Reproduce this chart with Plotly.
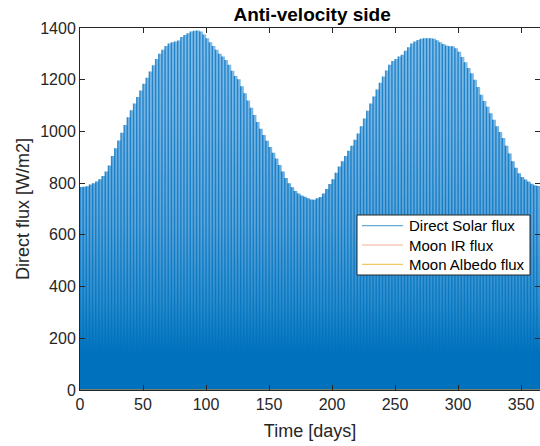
import numpy as np
import plotly.graph_objects as go

# Peak direct solar flux on the anti-velocity face, one value per 2.5-day step [W/m2]
STEP_DAYS = 2.5
direct_solar_peak = [
    785, 786, 788, 795, 800, 806, 815, 828, 845, 868,
    905, 935, 965, 995, 1025, 1055, 1082, 1108, 1133, 1158,
    1184, 1208, 1232, 1256, 1280, 1300, 1316, 1330, 1340, 1345,
    1348, 1352, 1365, 1373, 1380, 1386, 1389, 1390, 1386, 1375,
    1360, 1345, 1330, 1316, 1300, 1290, 1276, 1258, 1235, 1214,
    1202, 1175, 1148, 1120, 1092, 1064, 1036, 1010, 986, 964,
    940, 918, 895, 870, 845, 820, 800, 784, 770, 760,
    752, 747, 742, 737, 736, 742, 746, 760, 777, 797,
    815, 840, 864, 885, 905, 925, 945, 968, 992, 1020,
    1050, 1080, 1108, 1135, 1162, 1188, 1212, 1236, 1258, 1272,
    1280, 1290, 1297, 1312, 1326, 1340, 1348, 1354, 1358, 1360,
    1360, 1360, 1358, 1353, 1345, 1338, 1332, 1329, 1329, 1322,
    1308, 1288, 1268, 1245, 1225, 1200, 1172, 1142, 1118, 1095,
    1070, 1045, 1020, 998, 975, 945, 915, 885, 860, 838,
    824, 814, 806, 798, 792, 789,
]
days = (np.arange(len(direct_solar_peak)) * STEP_DAYS).tolist()

# Moon contributions stay close to zero over the year
moon_days = [0, 73, 146, 219, 292, 365]
moon_ir = [0, 0, 0, 0, 0, 0]
moon_albedo = [0, 0, 0, 0, 0, 0]

series_names = ["Direct Solar flux", "Moon IR flux", "Moon Albedo flux"]
series_colors = ["rgba(0,114,189,0.75)", "rgba(217,83,25,0.45)", "rgba(237,177,32,0.7)"]

x_ticks = [0, 50, 100, 150, 200, 250, 300, 350]
y_ticks = [0, 200, 400, 600, 800, 1000, 1200, 1400]

FONT = "Liberation Sans, Arial, sans-serif"
AX = "#262626"

fig = go.Figure()

# Filled envelope (step per sample) with a vertical shading
fig.add_trace(go.Scatter(
    x=days + [365], y=direct_solar_peak + [direct_solar_peak[-1]],
    mode="lines", line=dict(width=0, shape="hv"),
    fill="tozeroy",
    fillgradient=dict(
        type="vertical", start=0, stop=1400,
        colorscale=[[0.0, "rgb(0,114,189)"], [0.1, "rgb(0,114,189)"],
                    [0.25, "rgb(45,142,206)"], [0.45, "rgb(90,164,218)"],
                    [0.75, "rgb(120,181,228)"], [1.0, "rgb(132,189,232)"]],
    ),
    hoverinfo="skip", showlegend=False,
))

# Orbit-by-orbit flux spikes
sx, sy = [], []
for t, p in zip(days, direct_solar_peak):
    sx += [t, t, None]
    sy += [0, p, None]
fig.add_trace(go.Scatter(
    x=sx, y=sy, mode="lines", name=series_names[0], showlegend=False,
    line=dict(color=series_colors[0], width=1.4),
))

fig.add_trace(go.Scatter(
    x=moon_days, y=moon_ir, mode="lines", name=series_names[1], showlegend=False,
    line=dict(color=series_colors[1], width=1.2),
))
fig.add_trace(go.Scatter(
    x=moon_days, y=moon_albedo, mode="lines", name=series_names[2], showlegend=False,
    line=dict(color=series_colors[2], width=1.2),
))

# Boxed legend inside the axes
PX_L, PX_W, PY_T, PY_H = 80, 460, 28, 362


def px(x):
    return (x - PX_L) / PX_W


def py(y):
    return (PY_T + PY_H - y) / PY_H


shapes = [dict(type="rect", xref="paper", yref="paper", layer="above",
               x0=px(357), x1=px(530), y0=py(275), y1=py(215),
               fillcolor="white", line=dict(color=AX, width=1))]
annotations = []
for i, (name, col) in enumerate(zip(series_names, series_colors)):
    row_y = 225.7 + i * 19.3
    shapes.append(dict(type="line", xref="paper", yref="paper", layer="above",
                       x0=px(362), x1=px(403), y0=py(row_y), y1=py(row_y),
                       line=dict(color=col.replace("0.75", "0.6"), width=1.2)))
    annotations.append(dict(text=name, xref="paper", yref="paper",
                            x=px(407), y=py(row_y), xanchor="left", yanchor="middle",
                            showarrow=False,
                            font=dict(family=FONT, size=15, color="black")))

axis_style = dict(
    showline=True, linecolor=AX, linewidth=1, mirror="ticks",
    ticks="inside", ticklen=5, tickcolor=AX, tickwidth=1,
    showgrid=False, zeroline=False,
    tickfont=dict(family=FONT, size=16, color=AX),
)

fig.update_layout(
    width=540, height=446,
    margin=dict(l=80, r=0, t=28, b=56),
    paper_bgcolor="white", plot_bgcolor="white",
    title=dict(text="<b>Anti-velocity side</b>", x=0.578, xanchor="center",
               y=1 - 14 / 446, yanchor="middle",
               font=dict(family=FONT, size=19, color="black")),
    xaxis=dict(range=[0, 365], tickvals=x_ticks,
               title=dict(text="Time [days]", font=dict(family=FONT, size=18, color=AX), standoff=12),
               **axis_style),
    yaxis=dict(range=[0, 1400], tickvals=y_ticks,
               title=dict(text="Direct flux [W/m2]", font=dict(family=FONT, size=18, color=AX), standoff=5),
               **axis_style),
    shapes=shapes,
    annotations=annotations,
    showlegend=False,
)

fig.write_html("out.html")
